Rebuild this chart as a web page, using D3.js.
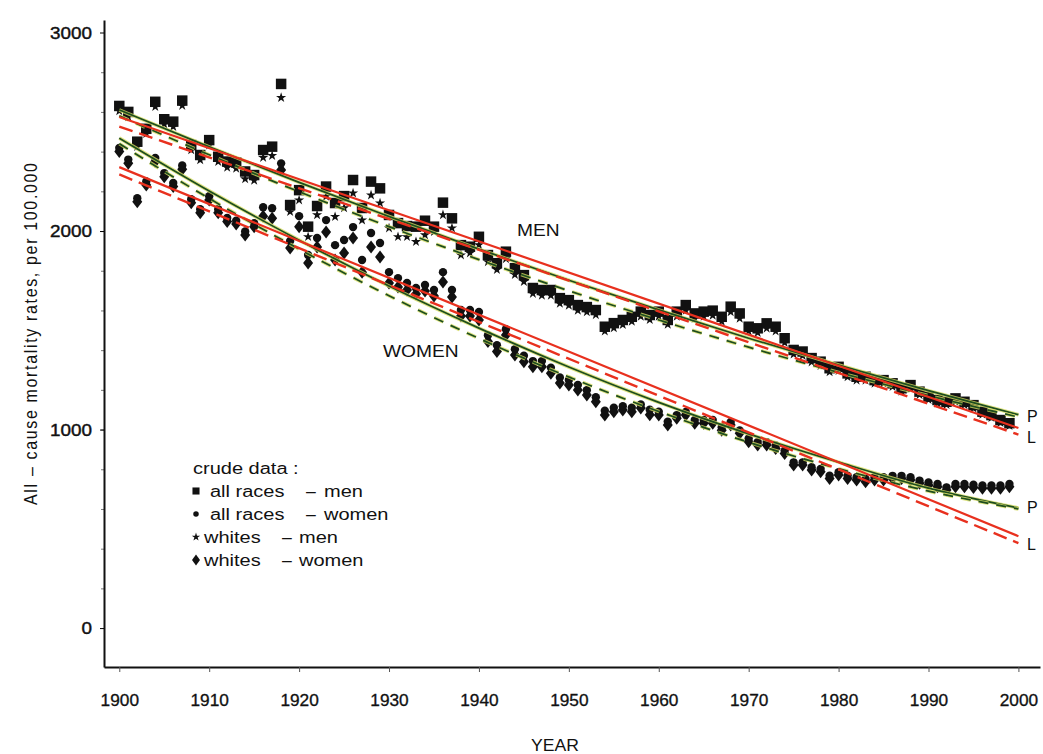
<!DOCTYPE html>
<html lang="en">
<head>
<meta charset="UTF-8">
<title>All-cause mortality rates, 1900-1999</title>
<script src="https://cdnjs.cloudflare.com/ajax/libs/d3/7.8.5/d3.min.js"></script>
<style>
  body { margin: 0; background: #fff; }
  text { font-family: "Liberation Sans", Arial, Helvetica, sans-serif; fill: #111; }
</style>
</head>
<body>
<div id="chart"></div>
<script>

// years of crude data
var years = [1900,1901,1902,1903,1904,1905,1906,1907,1908,1909,
             1910,1911,1912,1913,1914,1915,1916,1917,1918,1919,
             1920,1921,1922,1923,1924,1925,1926,1927,1928,1929,
             1930,1931,1932,1933,1934,1935,1936,1937,1938,1939,
             1940,1941,1942,1943,1944,1945,1946,1947,1948,1949,
             1950,1951,1952,1953,1954,1955,1956,1957,1958,1959,
             1960,1961,1962,1963,1964,1965,1966,1967,1968,1969,
             1970,1971,1972,1973,1974,1975,1976,1977,1978,1979,
             1980,1981,1982,1983,1984,1985,1986,1987,1988,1989,
             1990,1991,1992,1993,1994,1995,1996,1997,1998,1999];

// all races - men (squares)
var allMen = [2630,2600,2450,2515,2651,2563,2551,2657,2433,2383,
              2458,2374,2350,2345,2300,2282,2408,2425,2741,2131,
              2206,2022,2126,2224,2141,2176,2257,2116,2249,2215,
              2081,2040,2025,2022,2052,2022,2143,2064,1929,1921,
              1971,1879,1838,1896,1813,1778,1713,1703,1703,1662,
              1652,1627,1617,1602,1518,1536,1552,1568,1594,1577,
              1594,1552,1594,1627,1585,1594,1599,1568,1619,1585,
              1518,1510,1535,1518,1460,1401,1393,1360,1342,1309,
              1316,1283,1266,1266,1249,1249,1233,1208,1224,1191,
              1166,1149,1140,1157,1140,1123,1090,1073,1048,1032];

// all races - women (circles)
var allWomen = [2418,2360,2165,2250,2368,2292,2242,2330,2160,2110,
                2175,2110,2066,2052,1998,2040,2120,2115,2341,1950,
                2075,1879,1965,2055,1929,1955,2020,1854,1990,1940,
                1793,1763,1738,1713,1728,1703,1793,1703,1602,1602,
                1592,1475,1425,1505,1405,1372,1345,1345,1312,1262,
                1250,1225,1198,1163,1095,1110,1118,1110,1126,1100,
                1090,1040,1073,1089,1048,1048,1048,1012,1038,996,
                955,937,937,920,894,835,835,810,802,768,
                785,768,760,751,760,760,767,767,760,743,
                734,726,709,726,726,722,718,718,718,726];

// whites - men (stars)
var whiteMen = [2605,2575,2425,2490,2626,2538,2526,2632,2408,2358,
                2433,2349,2320,2315,2262,2255,2370,2380,2672,2097,
                2156,1971,2081,2174,2072,2116,2191,2055,2181,2141,
                2015,1971,1971,1946,1980,1997,2081,2015,1879,1889,
                1930,1845,1805,1860,1780,1745,1685,1675,1675,1635,
                1625,1600,1592,1578,1495,1512,1528,1545,1570,1553,
                1570,1530,1570,1600,1560,1570,1575,1545,1592,1560,
                1495,1488,1510,1495,1438,1380,1372,1340,1322,1290,
                1296,1265,1248,1248,1232,1232,1216,1192,1207,1175,
                1150,1133,1125,1140,1124,1108,1076,1060,1035,1020];

// whites - women (diamonds)
var whiteWomen = [2400,2341,2148,2232,2350,2274,2224,2311,2143,2092,
                  2156,2092,2048,2035,1980,2022,2075,2065,2307,1914,
                  2022,1839,1919,1995,1854,1889,1965,1793,1919,1869,
                  1738,1718,1703,1683,1698,1673,1743,1668,1572,1572,
                  1552,1443,1393,1476,1375,1342,1317,1317,1284,1234,
                  1224,1199,1174,1140,1073,1090,1098,1090,1108,1075,
                  1073,1023,1057,1073,1032,1032,1032,997,1023,981,
                  939,922,922,905,880,821,821,796,788,754,
                  771,754,746,737,746,746,754,754,746,729,
                  720,712,695,712,712,708,704,704,704,712];

// fitted curves (P), read at each decade
var fitYears = [1900,1910,1920,1930,1940,1950,1960,1970,1980,1990,2000];
var menPAll     = [2610,2424,2245,2073,1909,1752,1603,1460,1325,1196,1075];
var menPWhite   = [2580,2384,2198,2022,1856,1699,1552,1415,1288,1171,1063];
var womenPAll   = [2468,2202,1954,1723,1511,1315,1137,978,836,705,605];
var womenPWhite = [2440,2164,1909,1674,1459,1265,1091,936,803,690,600];

// linear fits (L), end points
var lineYears = [1900,2000];
var menLAll     = [2574,1008];
var menLWhite   = [2526,975];
var womenLAll   = [2322,463];
var womenLWhite = [2285,428];

var yTicks = [0,1000,2000,3000];
var xTicks = [1900,1910,1920,1930,1940,1950,1960,1970,1980,1990,2000];

var w = 1043;
var h = 754;

var svg = d3.select("#chart")
  .append("svg")
  .attr("width", w)
  .attr("height", h);

var xScale = d3.scaleLinear().domain([1898.3, 2002.4]).range([104, 1040]);
var yScale = d3.scaleLinear().domain([-196, 3063]).range([667, 20]);

// text stretched sideways like the scanned original
function addText(x, y, str, sx, anchor) {
  return svg.append("text")
    .attr("transform", "translate(" + x + "," + y + ") scale(" + sx + ",1)")
    .attr("text-anchor", anchor || "start")
    .style("font-size", "16px")
    .text(str);
}

// axes
var xAxis = d3.axisBottom(xScale).tickValues(xTicks).tickFormat(d3.format("d"))
  .tickSize(5).tickSizeOuter(0).tickPadding(22);
var gx = svg.append("g").attr("transform", "translate(0,667)").call(xAxis);
gx.select(".domain").attr("stroke", "#111").attr("stroke-width", 2);
gx.selectAll(".tick line").attr("stroke", "#555");
gx.selectAll(".tick text")
  .attr("y", 0).attr("dy", 0)
  .attr("transform", "translate(0,39) scale(1.08,1)")
  .style("font-size", "16px").style("font-family", "Liberation Sans, Arial, sans-serif")
  .attr("fill", "#111").attr("stroke", "#111").attr("stroke-width", 0.3);

var yMinor = d3.axisLeft(yScale).tickValues(d3.range(200, 3000, 200)).tickSize(3).tickFormat("");
svg.append("g").attr("transform", "translate(104,0)").call(yMinor)
  .call(function(g) { g.select(".domain").remove(); g.selectAll("line").attr("stroke", "#777"); });

var yAxis = d3.axisLeft(yScale).tickValues(yTicks).tickFormat(d3.format("d"))
  .tickSize(4).tickSizeOuter(0);
var gy = svg.append("g").attr("transform", "translate(104,0)").call(yAxis);
gy.select(".domain").attr("stroke", "#111").attr("stroke-width", 2);
gy.selectAll(".tick text")
  .attr("x", 0).attr("dy", "0.36em")
  .attr("transform", "translate(-12,0) scale(1.18,1)")
  .style("font-size", "16px").style("font-family", "Liberation Sans, Arial, sans-serif")
  .attr("fill", "#111").attr("stroke", "#111").attr("stroke-width", 0.4);

// axis titles
svg.append("text")
  .attr("transform", "translate(37,334) rotate(-90) scale(1,1.12)")
  .attr("text-anchor", "middle")
  .attr("textLength", 342)
  .attr("lengthAdjust", "spacing")
  .style("font-size", "16px")
  .text("All \u2013 cause mortality rates, per 100.000");

addText(555, 751, "YEAR", 1.1, "middle");

// markers
function diamond(wd, ht) {
  return "M0," + (-ht / 2) + "L" + (wd / 2) + ",0L0," + (ht / 2) + "L" + (-wd / 2) + ",0Z";
}
var squarePath = d3.symbol().type(d3.symbolSquare).size(110)();
var circlePath = d3.symbol().type(d3.symbolCircle).size(55)();
var starPath = d3.symbol().type(d3.symbolStar).size(32)();
var diamondPath = diamond(10, 13);

function plotSeries(values, path) {
  svg.append("g")
    .selectAll("path")
    .data(years.map(function(yr, i) { return { year: yr, value: values[i] }; }))
    .enter()
    .append("path")
    .attr("d", path)
    .attr("fill", "#111")
    .attr("transform", function(d) { return "translate(" + xScale(d.year) + "," + yScale(d.value) + ")"; });
}

plotSeries(whiteWomen, diamondPath);
plotSeries(allWomen, circlePath);
plotSeries(whiteMen, starPath);
plotSeries(allMen, squarePath);

// fitted lines
function drawLine(xs, vals, color, width, dash, curved) {
  var line = d3.line()
    .x(function(d, i) { return xScale(xs[i]); })
    .y(function(d) { return yScale(d); });
  if (curved) line.curve(d3.curveMonotoneX);
  var p = svg.append("path")
    .datum(vals)
    .attr("d", line)
    .attr("fill", "none")
    .attr("stroke", color)
    .attr("stroke-width", width);
  if (dash) p.attr("stroke-dasharray", dash);
  return p;
}

function greenLine(vals, dash) {
  drawLine(fitYears, vals, "#d6dc62", 3.6, dash, true).attr("opacity", 0.8);
  drawLine(fitYears, vals, "#1d4d1f", 1.7, dash, true);
}

greenLine(menPAll, null);
greenLine(menPWhite, "10,8");
greenLine(womenPAll, null);
greenLine(womenPWhite, "10,8");

drawLine(lineYears, menLAll, "#e8301e", 2.2, null, false);
drawLine(lineYears, menLWhite, "#e8301e", 2.4, "14,7", false);
drawLine(lineYears, womenLAll, "#e8301e", 2.2, null, false);
drawLine(lineYears, womenLWhite, "#e8301e", 2.4, "14,7", false);

// curve labels
addText(517, 236, "MEN", 1.2);
addText(383, 357, "WOMEN", 1.2);
addText(1027, 422, "P", 1.0);
addText(1027, 443, "L", 1.0);
addText(1027, 513, "P", 1.0);
addText(1027, 550, "L", 1.0);

// legend
addText(193, 474, "crude data :", 1.25);

var legendRows = [
  { path: d3.symbol().type(d3.symbolSquare).size(50)(), y: 491, a: "all races", ax: 210, dx: 306, b: "men", bx: 324 },
  { path: d3.symbol().type(d3.symbolCircle).size(24)(), y: 514, a: "all races", ax: 210, dx: 306, b: "women", bx: 324 },
  { path: d3.symbol().type(d3.symbolStar).size(22)(), y: 537, a: "whites", ax: 204, dx: 282, b: "men", bx: 299 },
  { path: diamond(8, 11), y: 560, a: "whites", ax: 204, dx: 282, b: "women", bx: 299 }
];

legendRows.forEach(function(r) {
  svg.append("path").attr("d", r.path).attr("fill", "#111")
    .attr("transform", "translate(196," + r.y + ")");
  addText(r.ax, r.y + 6, r.a, 1.25);
  addText(r.dx, r.y + 6, "\u2013", 1.1);
  addText(r.bx, r.y + 6, r.b, 1.25);
});

</script>
</body>
</html>
